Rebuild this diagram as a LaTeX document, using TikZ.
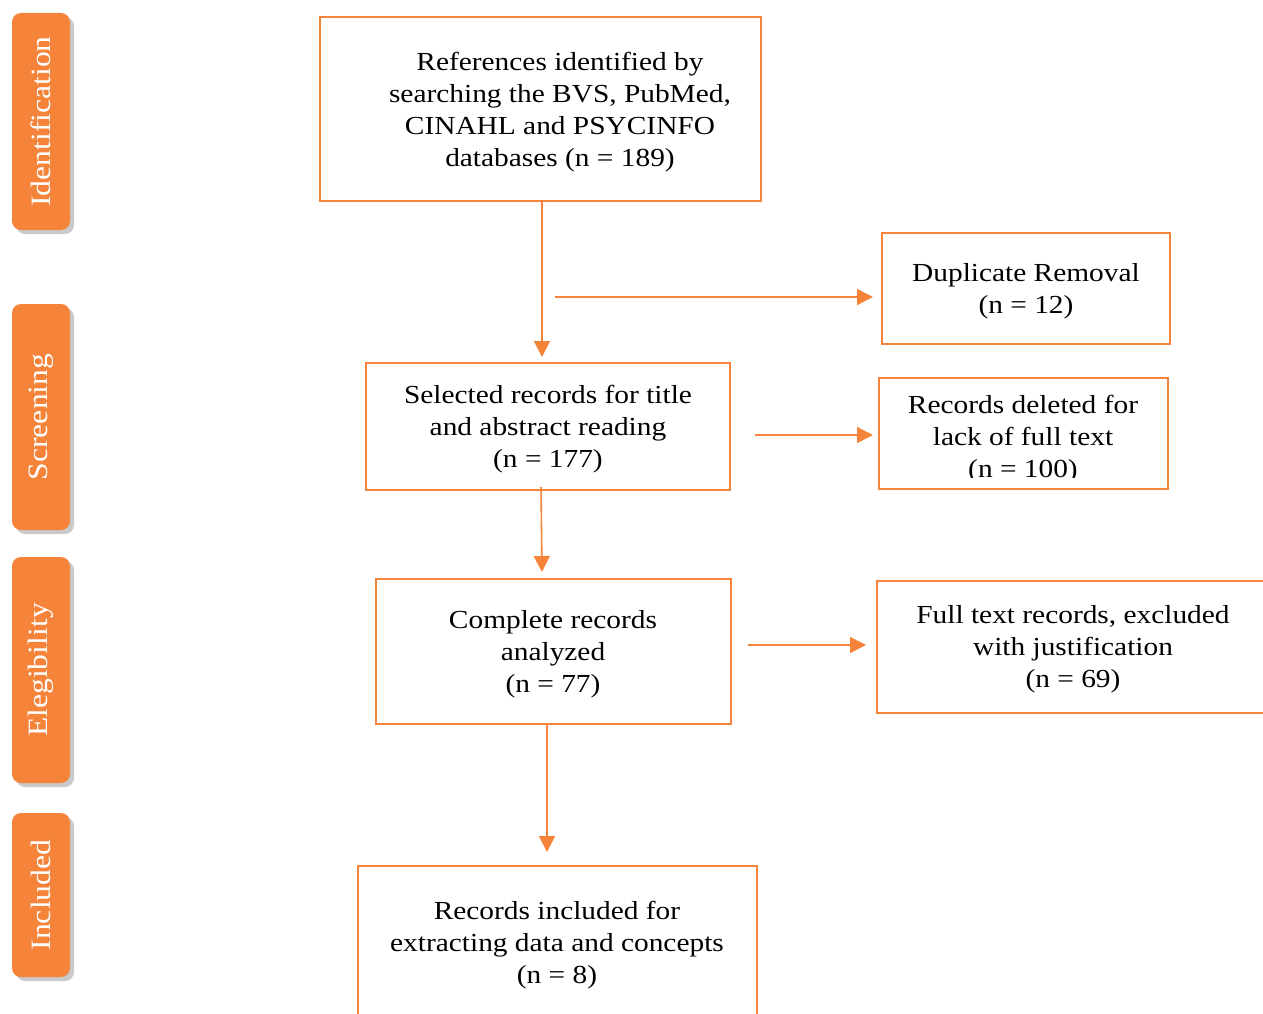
\documentclass[tikz,border=0pt]{standalone}
\usepackage{fontspec}
\setmainfont{Liberation Serif}[FakeStretch=1.13]
\usetikzlibrary{arrows.meta,shadows}
\definecolor{org}{HTML}{F5843A}
\begin{document}
\begin{tikzpicture}[x=1pt,y=-1pt,
  box/.style={draw=org,line width=2.6pt,inner sep=0pt},
  txt/.style={align=center,font=\fontsize{26}{32}\selectfont,inner sep=0pt},
  arr/.style={draw=org,line width=1.6pt,-{Triangle[width=16pt,length=16pt]}},
  tab/.style={fill=org,rounded corners=9pt,rotate=90,text=white,inner sep=0pt,
    minimum height=58pt,font=\fontsize{28}{30}\selectfont,
    drop shadow={shadow xshift=4pt,shadow yshift=-4pt,opacity=0.35,fill=black!60}}]
\useasboundingbox (0,0) rectangle (1263,1014);
\clip (0,0) rectangle (1263,1014);
% side tabs
\node[tab,minimum width=217pt] (tid) at (41,121.5) {\raisebox{-1pt}{Identification}};
\node[tab,minimum width=226pt] (tsc) at (41,417) {Screening};
\node[tab,minimum width=226pt] (tel) at (41,670) {Elegibility};
\node[tab,minimum width=164pt] (tin) at (41,895) {Included};
% boxes
\node[box,minimum width=441pt,minimum height=184pt] (b1) at (540.5,109) {};
\node[box,minimum width=288pt,minimum height=111pt] (dup) at (1026,288.5) {};
\node[box,minimum width=364pt,minimum height=127pt] (b2) at (548,426.5) {};
\node[box,minimum width=289pt,minimum height=111pt] (del) at (1023.5,433.5) {};
\node[box,minimum width=355pt,minimum height=145pt] (b3) at (553.5,651.5) {};
\node[box,minimum width=413pt,minimum height=132pt] (ft) at (1083.5,647) {};
\node[box,minimum width=399pt,minimum height=174pt] (b4) at (557.5,953) {};
% texts
\node[txt] (t1) at (560,112) {References identified by\\searching the BVS, PubMed,\\CINAHL and PSYCINFO\\databases (n = 189)};
\node[txt] (tdup) at (1026,291) {Duplicate Removal\\(n = 12)};
\node[txt] (t2) at (548,429) {Selected records for title\\and abstract reading\\(n = 177)};
\begin{scope}
\clip (879,378) rectangle (1168,477);
\node[txt] (tdel) at (1023,439) {Records deleted for\\lack of full text\\(n = 100)};
\end{scope}
\node[txt] (t3) at (553,654) {Complete records\\analyzed\\(n = 77)};
\node[txt] (tft) at (1073,649) {Full text records, excluded\\with justification\\(n = 69)};
\node[txt] (t4) at (557,945) {Records included for\\extracting data and concepts\\(n = 8)};
% connector ends
\coordinate (c1a) at (542,201);
\coordinate (c1b) at (542,357);
\coordinate (c2a) at (555,297);
\coordinate (c2b) at (873,297);
\coordinate (c3a) at (755,435);
\coordinate (c3b) at (873,435);
\coordinate (c4a) at (541,487);
\coordinate (c4b) at (542,572);
\coordinate (c5a) at (748,645);
\coordinate (c5b) at (866,645);
\coordinate (c6a) at (547,724);
\coordinate (c6b) at (547,852);
\draw[arr] (c1a) -- (c1b);
\draw[arr] (c2a) -- (c2b);
\draw[arr] (c3a) -- (c3b);
\draw[arr] (c4a) -- (c4b);
\draw[arr] (c5a) -- (c5b);
\draw[arr] (c6a) -- (c6b);
\end{tikzpicture}
\end{document}
